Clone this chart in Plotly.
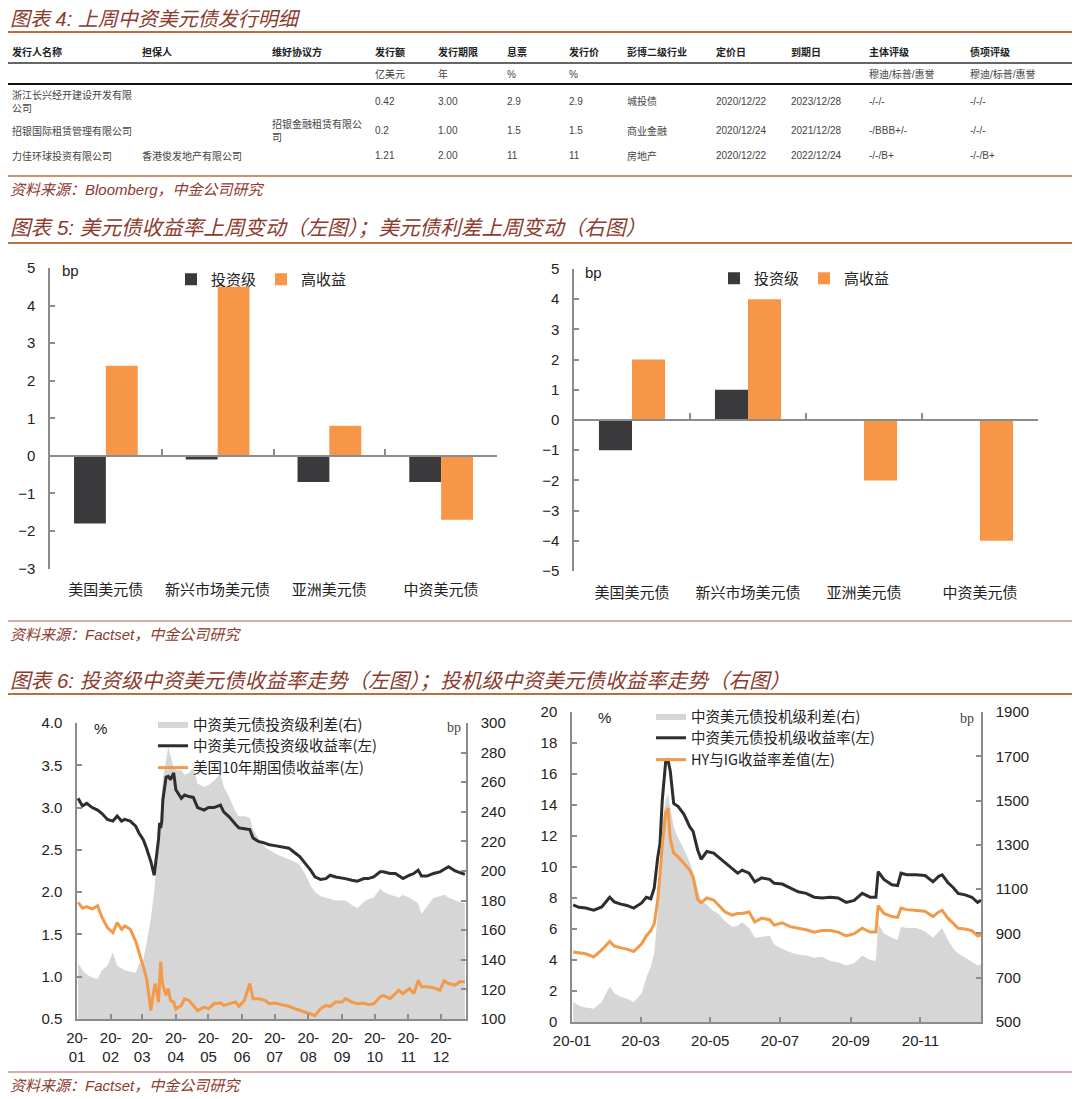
import plotly.graph_objects as go

# The page body has an 8px margin, so the figure is drawn 8px smaller and all
# reference pixel positions are shifted by that offset.
OFF = 8
W, H = 1080 - OFF, 1099 - OFF


def px(x):
    return (x - OFF) / W


def py(y):
    return 1 - (y - OFF) / H


# ---------------- Table data (图表 4) ----------------
table_header = ["发行人名称", "担保人", "维好协议方", "发行额", "发行期限", "息票", "发行价",
                "彭博二级行业", "定价日", "到期日", "主体评级", "债项评级"]
table_units = ["", "", "", "亿美元", "年", "%", "%", "", "", "", "穆迪/标普/惠誉", "穆迪/标普/惠誉"]
issuers = ["浙江长兴经开建设开发有限<br>公司", "招银国际租赁管理有限公司", "力佳环球投资有限公司"]
guarantors = ["", "", "香港俊发地产有限公司"]
keepwell = ["", "招银金融租赁有限公<br>司", ""]
amount = ["0.42", "0.2", "1.21"]
tenor = ["3.00", "1.00", "2.00"]
coupon = ["2.9", "1.5", "11"]
issue_price = ["2.9", "1.5", "11"]
industry = ["城投债", "商业金融", "房地产"]
pricing_date = ["2020/12/22", "2020/12/24", "2020/12/22"]
maturity = ["2023/12/28", "2021/12/28", "2022/12/24"]
issuer_rating = ["-/-/-", "-/BBB+/-", "-/-/B+"]
bond_rating = ["-/-/-", "-/-/-", "-/-/B+"]

# ---------------- Bar data (图表 5) ----------------
bar_cats = ["美国美元债", "新兴市场美元债", "亚洲美元债", "中资美元债"]
yield_chg_ig = [-1.8, -0.1, -0.7, -0.7]
yield_chg_hy = [2.4, 4.5, 0.8, -1.7]
spread_chg_ig = [-1, 1, 0, 0]
spread_chg_hy = [2, 4, -2, -4]

# ---------------- IG line data (图表 6 左) ----------------
ig_dates = ["2020-01-02", "2020-01-06", "2020-01-10", "2020-01-15", "2020-01-20", "2020-01-24", "2020-01-29",
            "2020-02-03", "2020-02-07", "2020-02-11", "2020-02-14", "2020-02-19", "2020-02-24", "2020-02-27",
            "2020-03-02", "2020-03-05", "2020-03-09", "2020-03-11", "2020-03-12", "2020-03-13", "2020-03-16",
            "2020-03-17", "2020-03-18", "2020-03-19", "2020-03-20", "2020-03-23", "2020-03-25", "2020-03-27",
            "2020-03-30", "2020-04-01", "2020-04-06", "2020-04-09", "2020-04-13", "2020-04-17", "2020-04-21",
            "2020-04-27", "2020-05-01", "2020-05-06", "2020-05-12", "2020-05-15", "2020-05-20", "2020-05-26",
            "2020-05-29", "2020-06-03", "2020-06-08", "2020-06-11", "2020-06-16", "2020-06-22", "2020-06-26",
            "2020-07-01", "2020-07-07", "2020-07-14", "2020-07-20", "2020-07-24", "2020-07-29", "2020-08-03",
            "2020-08-07", "2020-08-12", "2020-08-17", "2020-08-21", "2020-08-26", "2020-09-01", "2020-09-04",
            "2020-09-10", "2020-09-15", "2020-09-21", "2020-09-25", "2020-09-30", "2020-10-06", "2020-10-09",
            "2020-10-15", "2020-10-20", "2020-10-23", "2020-10-27", "2020-11-02", "2020-11-06", "2020-11-10",
            "2020-11-13", "2020-11-18", "2020-11-24", "2020-11-30", "2020-12-04", "2020-12-08", "2020-12-14",
            "2020-12-18", "2020-12-23"]
ig_yield = [3.11, 3.02, 3.05, 3.00, 2.97, 2.93, 2.86,
            2.84, 2.90, 2.84, 2.86, 2.84, 2.78, 2.70,
            2.62, 2.52, 2.36, 2.24, 2.20, 2.30, 2.62,
            2.82, 2.76, 2.83, 3.09, 3.36, 3.37, 3.33,
            3.41, 3.21, 3.11, 3.15, 3.13, 3.12, 3.00,
            2.97, 3.00, 3.00, 3.03, 2.95, 2.89, 2.80,
            2.76, 2.75, 2.74, 2.64, 2.60, 2.58, 2.56,
            2.55, 2.54, 2.52, 2.46, 2.42, 2.34, 2.26,
            2.18, 2.15, 2.16, 2.20, 2.18, 2.17, 2.16,
            2.14, 2.13, 2.16, 2.16, 2.18, 2.24, 2.24,
            2.22, 2.22, 2.19, 2.16, 2.20, 2.22, 2.26,
            2.19, 2.19, 2.22, 2.24, 2.27, 2.30, 2.25,
            2.23, 2.21]
ust10y = [1.88, 1.81, 1.83, 1.80, 1.84, 1.70, 1.58,
          1.52, 1.64, 1.56, 1.60, 1.56, 1.42, 1.30,
          1.12, 0.98, 0.60, 0.78, 0.88, 0.92, 0.70,
          0.96, 1.18, 1.00, 0.90, 0.78, 0.86, 0.72,
          0.70, 0.62, 0.66, 0.74, 0.72, 0.66, 0.60,
          0.64, 0.62, 0.68, 0.69, 0.66, 0.68, 0.70,
          0.65, 0.72, 0.92, 0.74, 0.74, 0.72, 0.68,
          0.69, 0.67, 0.65, 0.62, 0.60, 0.58, 0.56,
          0.54, 0.62, 0.66, 0.65, 0.70, 0.70, 0.74,
          0.70, 0.68, 0.69, 0.67, 0.68, 0.76, 0.78,
          0.74, 0.80, 0.84, 0.80, 0.86, 0.80, 0.96,
          0.88, 0.88, 0.87, 0.84, 0.95, 0.92, 0.90,
          0.94, 0.94]
ig_spread = [138, 133, 130, 128, 127, 133, 136,
             145, 136, 134, 133, 132, 131, 137,
             140, 151, 168, 180, 185, 195, 214,
             228, 240, 250, 262, 275, 284, 278,
             270, 268, 268, 265, 266, 270, 259,
             257, 258, 261, 266, 257, 250, 240,
             237, 237, 236, 228, 222, 216, 214,
             212, 210, 208, 206, 204, 198, 190,
             186, 183, 182, 181, 180, 180, 180,
             177, 175, 179, 181, 182, 188, 186,
             184, 183, 182, 184, 182, 180, 178,
             171, 176, 182, 183, 184, 182, 180,
             179, 178]

# ---------------- HY line data (图表 6 右) ----------------
hy_dates = ["2020-01-02", "2020-01-07", "2020-01-13", "2020-01-20", "2020-01-27",
            "2020-02-03", "2020-02-07", "2020-02-12", "2020-02-18", "2020-02-24",
            "2020-03-02", "2020-03-06", "2020-03-10", "2020-03-13", "2020-03-16", "2020-03-18",
            "2020-03-20", "2020-03-23", "2020-03-25", "2020-03-27", "2020-03-30",
            "2020-04-03", "2020-04-08", "2020-04-13", "2020-04-16", "2020-04-20", "2020-04-23", "2020-04-28",
            "2020-05-04", "2020-05-08", "2020-05-14", "2020-05-20", "2020-05-25", "2020-05-29",
            "2020-06-04", "2020-06-09", "2020-06-15", "2020-06-22", "2020-06-26",
            "2020-07-03", "2020-07-10", "2020-07-17", "2020-07-24", "2020-07-31",
            "2020-08-07", "2020-08-14", "2020-08-21", "2020-08-28",
            "2020-09-04", "2020-09-11", "2020-09-18", "2020-09-23", "2020-09-25", "2020-09-30",
            "2020-10-07", "2020-10-12", "2020-10-15", "2020-10-20", "2020-10-28",
            "2020-11-05", "2020-11-12", "2020-11-17", "2020-11-20", "2020-11-25", "2020-11-30",
            "2020-12-04", "2020-12-10", "2020-12-16", "2020-12-21", "2020-12-24"]
hy_yield = [7.55, 7.40, 7.35, 7.22, 7.42,
            8.05, 7.75, 7.62, 7.52, 7.35,
            7.68, 8.05, 7.95, 8.65, 10.6, 11.5,
            14.3, 16.8, 16.9, 16.2, 14.1,
            13.9, 13.4, 12.6, 12.3, 11.1, 10.5, 11.0,
            10.9, 10.65, 10.26, 9.9, 9.6, 9.8,
            9.6, 9.05, 9.3, 9.2, 8.95,
            8.9, 8.65, 8.4, 8.3, 8.05,
            8.0, 8.05, 8.0, 7.72,
            7.85, 8.3, 8.05, 8.05, 9.7, 9.2,
            8.85, 8.8, 9.6, 9.5, 9.5,
            9.45, 9.05, 9.4, 9.5, 9.0, 8.65,
            8.3, 8.2, 8.05, 7.72, 7.85]
hy_ig_diff = [4.52, 4.45, 4.40, 4.20, 4.65,
              5.20, 4.90, 4.80, 4.70, 4.55,
              5.05, 5.55, 5.90, 6.35, 7.85, 9.50,
              11.4, 13.5, 13.8, 11.8, 10.9,
              10.65, 10.25, 9.8, 9.35, 7.9, 7.7, 8.0,
              7.87, 7.55, 7.1, 6.9, 7.0, 7.0,
              7.1, 6.45, 6.7, 6.6, 6.25,
              6.4, 6.15, 6.05, 5.95, 5.8,
              5.9, 5.9, 5.8, 5.55,
              5.7, 6.05, 5.8, 5.8, 7.5, 7.0,
              6.8, 6.75, 7.35, 7.25, 7.2,
              7.15, 6.8, 7.1, 7.2, 6.7, 6.35,
              6.05, 6.0, 5.9, 5.55, 5.6]
hy_spread = [590, 575, 565, 560, 590,
             660, 630, 615, 605, 590,
             630, 700, 750, 810, 990, 1200,
             1400, 1500, 1530, 1470, 1380,
             1330, 1280, 1220, 1180, 1100, 1050, 1030,
             1000, 990, 955, 930, 935, 950,
             925, 880, 885, 890, 850,
             830, 815, 805, 800, 790,
             795, 775, 770, 755,
             765, 800, 780, 775, 945, 900,
             880, 870, 930, 925, 925,
             910, 880, 910, 925, 870, 830,
             810, 790, 770, 755, 760]

ig_tickvals = ["2020-%02d-01" % m for m in range(1, 13)]
ig_ticktext = ["20-<br>%02d" % m for m in range(1, 13)]
hy_tickvals = ["2020-%02d-01" % m for m in range(1, 13, 2)]
hy_ticktext = ["20-%02d" % m for m in range(1, 13, 2)]

# ---------------- styles ----------------
DARK = "#3A3A3C"
ORANGE = "#F79646"
LINE_BLACK = "#2E2E2E"
LINE_ORANGE = "#F39A4A"
GRAY_FILL = "#D6D6D6"
AXIS = "#8C8C8C"
TITLE_C = "#8C3B2E"
RULE_C = "#B8703E"
FONT_MIX = "Liberation Sans, Noto Sans CJK SC, sans-serif"
FONT_CJK = "Noto Sans CJK SC, sans-serif"
TXT = "#222222"

fig = go.Figure()

# bars
fig.add_bar(x=bar_cats, y=yield_chg_ig, name="投资级", marker=dict(color=DARK, line=dict(width=0)),
            xaxis="x", yaxis="y", legend="legend")
fig.add_bar(x=bar_cats, y=yield_chg_hy, name="高收益", marker=dict(color=ORANGE, line=dict(width=0)),
            xaxis="x", yaxis="y", legend="legend")
fig.add_bar(x=bar_cats, y=spread_chg_ig, name="投资级", marker=dict(color=DARK, line=dict(width=0)),
            xaxis="x2", yaxis="y2", legend="legend2")
fig.add_bar(x=bar_cats, y=spread_chg_hy, name="高收益", marker=dict(color=ORANGE, line=dict(width=0)),
            xaxis="x2", yaxis="y2", legend="legend2")

# IG lines
fig.add_scatter(x=ig_dates, y=ig_spread, mode="lines", fill="tozeroy", fillcolor=GRAY_FILL,
                line=dict(width=0, color=GRAY_FILL), name="中资美元债投资级利差(右)",
                xaxis="x3", yaxis="y3", legend="legend3")
fig.add_scatter(x=ig_dates, y=ig_yield, mode="lines", line=dict(width=3, color=LINE_BLACK),
                name="中资美元债投资级收益率(左)", xaxis="x3", yaxis="y4", legend="legend3")
fig.add_scatter(x=ig_dates, y=ust10y, mode="lines", line=dict(width=3, color=LINE_ORANGE),
                name="美国10年期国债收益率(左)", xaxis="x3", yaxis="y4", legend="legend3")

# HY lines
fig.add_scatter(x=hy_dates, y=hy_spread, mode="lines", fill="tozeroy", fillcolor=GRAY_FILL,
                line=dict(width=0, color=GRAY_FILL), name="中资美元债投机级利差(右)",
                xaxis="x4", yaxis="y5", legend="legend4")
fig.add_scatter(x=hy_dates, y=hy_yield, mode="lines", line=dict(width=3, color=LINE_BLACK),
                name="中资美元债投机级收益率(左)", xaxis="x4", yaxis="y6", legend="legend4")
fig.add_scatter(x=hy_dates, y=hy_ig_diff, mode="lines", line=dict(width=3, color=LINE_ORANGE),
                name="HY与IG收益率差值(左)", xaxis="x4", yaxis="y6", legend="legend4")

tickfont = dict(family=FONT_MIX, size=15, color=TXT)
cjkfont = dict(family=FONT_CJK, size=15, color=TXT)
legfont = dict(family=FONT_CJK, size=14.5, color=TXT)


def yax(**kw):
    d = dict(showline=True, linecolor=AXIS, linewidth=1.5, ticks="inside", ticklen=5, tickcolor=AXIS,
             tickwidth=1.5, showgrid=False, zeroline=False, tickfont=tickfont, ticklabelstandoff=10,
             fixedrange=True, automargin=False)
    d.update(kw)
    return d


def xcat(**kw):
    d = dict(anchor="free", type="category", showline=True, linecolor=AXIS, linewidth=1.5,
             ticks="inside", tickson="boundaries", ticklen=6, tickcolor=AXIS, tickwidth=1.5,
             showgrid=False, tickfont=cjkfont, tickangle=0, fixedrange=True, automargin=False)
    d.update(kw)
    return d


def xdate(**kw):
    d = dict(type="date", range=["2020-01-01", "2020-12-24"], showline=True, linecolor=AXIS,
             linewidth=1.5, ticks="inside", ticklen=5, tickcolor=AXIS, tickwidth=1.5, showgrid=False,
             tickfont=tickfont, tickangle=0, ticklabelstandoff=4, fixedrange=True, automargin=False)
    d.update(kw)
    return d


layout = dict(
    width=W, height=H, margin=dict(l=0, r=0, t=0, b=0, pad=0, autoexpand=False),
    paper_bgcolor="white", plot_bgcolor="white",
    barmode="group", bargap=0.43, bargroupgap=0,
    showlegend=True,
    xaxis=xcat(domain=[px(50), px(497)], position=py(456), ticklabelstandoff=120),
    yaxis=yax(domain=[py(568.5), py(268)], anchor="x", range=[-3, 5], dtick=1),
    xaxis2=xcat(domain=[px(574), px(1038)], position=py(420), ticklabelstandoff=159),
    yaxis2=yax(domain=[py(571), py(269)], anchor="x2", range=[-5, 5], dtick=1),
    xaxis3=xdate(domain=[px(77), px(466)], anchor="y3", tickvals=ig_tickvals, ticktext=ig_ticktext),
    yaxis3=yax(domain=[py(1019), py(723)], anchor="x3", side="right", range=[100, 300],
               tick0=100, dtick=20),
    yaxis4=yax(overlaying="y3", anchor="x3", side="left", range=[0.5, 4.0], tick0=0.5, dtick=0.5,
               tickformat=".1f"),
    xaxis4=xdate(domain=[px(572), px(981)], anchor="y5", tickvals=hy_tickvals, ticktext=hy_ticktext),
    yaxis5=yax(domain=[py(1022), py(712)], anchor="x4", side="right", range=[500, 1900],
               tick0=500, dtick=200),
    yaxis6=yax(overlaying="y5", anchor="x4", side="left", range=[0, 20], tick0=0, dtick=2),
    legend=dict(x=px(171), y=py(263), xanchor="left", yanchor="top", orientation="h",
                bgcolor="rgba(0,0,0,0)", font=cjkfont, traceorder="normal"),
    legend2=dict(x=px(714), y=py(262), xanchor="left", yanchor="top", orientation="h",
                 bgcolor="rgba(0,0,0,0)", font=cjkfont, traceorder="normal"),
    legend3=dict(x=px(153), y=py(708), xanchor="left", yanchor="top", orientation="v",
                 bgcolor="rgba(0,0,0,0)", font=legfont, traceorder="normal", tracegroupgap=0),
    legend4=dict(x=px(651), y=py(700), xanchor="left", yanchor="top", orientation="v",
                 bgcolor="rgba(0,0,0,0)", font=legfont, traceorder="normal", tracegroupgap=0),
)

# ---------------- annotations (titles, table, labels) ----------------
ann = []


def add_text(x, y, s, size=10, color="#333333", family=FONT_MIX, xanchor="left"):
    ann.append(dict(x=px(x), y=py(y), xref="paper", yref="paper", text=s, showarrow=False,
                    xanchor=xanchor, yanchor="middle", align="left",
                    font=dict(size=size, color=color, family=family)))


add_text(8, 19, "<i>图表 4: 上周中资美元债发行明细</i>", size=20, color=TITLE_C)
add_text(8, 228, "<i>图表 5: 美元债收益率上周变动（左图）；美元债利差上周变动（右图）</i>",
         size=20.6, color=TITLE_C)
add_text(8, 680, "<i>图表 6: 投资级中资美元债收益率走势（左图）；投机级中资美元债收益率走势（右图）</i>",
         size=20.6, color=TITLE_C)
add_text(8, 190, "<i>资料来源：Bloomberg，中金公司研究</i>", size=15, color=TITLE_C)
add_text(8, 634, "<i>资料来源：Factset，中金公司研究</i>", size=15, color=TITLE_C)
add_text(8, 1085, "<i>资料来源：Factset，中金公司研究</i>", size=15, color=TITLE_C)

col_x = [10, 140, 270, 373, 436, 505, 567, 625, 714, 789, 867, 968]
row_y = [101, 131, 156]
columns = [issuers, guarantors, keepwell, amount, tenor, coupon, issue_price, industry,
           pricing_date, maturity, issuer_rating, bond_rating]
for cx, h, u in zip(col_x, table_header, table_units):
    add_text(cx, 52, "<b>%s</b>" % h, size=10, color="#222222")
    if u:
        add_text(cx, 74, u, size=10, color="#444444")
for cx, col in zip(col_x, columns):
    for ry, val in zip(row_y, col):
        if val:
            add_text(cx, ry, val, size=10, color="#444444")

add_text(60, 270, "bp", size=15, color=TXT)
add_text(583, 272, "bp", size=15, color=TXT)
add_text(92, 728, "%", size=15, color=TXT)
add_text(445, 727, "bp", size=14, color="#444444", family="Liberation Serif, serif")
add_text(596, 717, "%", size=15, color=TXT)
add_text(958, 718, "bp", size=14, color="#444444", family="Liberation Serif, serif")

layout["annotations"] = ann

# ---------------- rules ----------------
shapes = []


def hline(y, color, width, x0=8, x1=1075):
    shapes.append(dict(type="line", xref="paper", yref="paper", x0=px(x0), x1=px(x1), y0=py(y), y1=py(y),
                       line=dict(color=color, width=width)))


hline(32, RULE_C, 2)
hline(63, "#333333", 1.5)
hline(84, "#111111", 2)
hline(176, RULE_C, 1.5)
hline(243, RULE_C, 2)
hline(621, "#B05A4A", 1.2)
hline(694, RULE_C, 2)
hline(1072, "#B05A4A", 1.2)
layout["shapes"] = shapes

fig.update_layout(**layout)
fig.write_html("out.html")
